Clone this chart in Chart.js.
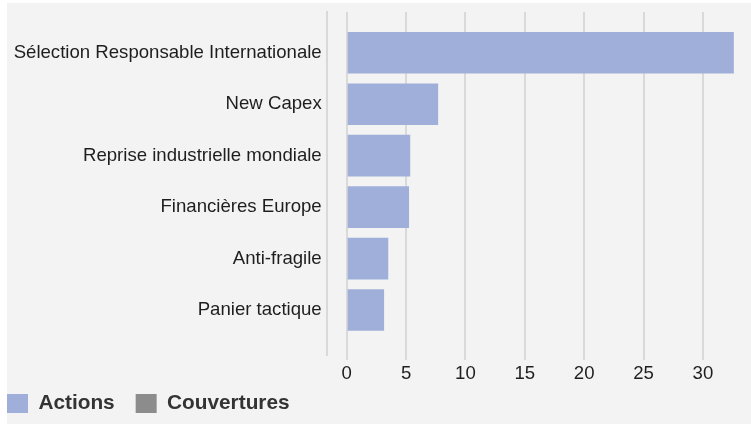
<!DOCTYPE html>
<html lang="fr">
<head>
<meta charset="utf-8">
<title>Poches du portefeuille</title>
<script src="https://cdn.jsdelivr.net/npm/chart.js@4.4.1/dist/chart.umd.min.js"></script>
<style>
    html, body { margin: 0; padding: 0; background: #ffffff; overflow: hidden; }
    /* Fond gris du bloc graphique */
    #panel { position: absolute; left: 7px; top: 3px; width: 744px; height: 421px; background: #f3f3f3; }
    /* Le canvas déborde à gauche pour que la légende démarre au bord du bloc */
    #wrap { position: absolute; left: -14px; top: 0; width: 765px; height: 426px; }
</style>
</head>
<body>
<div id="panel"></div>
<div id="wrap"><canvas id="chartPoches"></canvas></div>
<script>
// Données du graphique
const categories = [
    'Sélection Responsable Internationale',
    'New Capex',
    'Reprise industrielle mondiale',
    'Financières Europe',
    'Anti-fragile',
    'Panier tactique'
];
const actions = [32.6, 7.7, 5.35, 5.25, 3.5, 3.15];
const couvertures = [0, 0, 0, 0, 0, 0];
const xTicks = [0, 5, 10, 15, 20, 25, 30];

const gridColor = '#d9d9d9';
const textColor = '#1e1e1e';
const fontFamily = 'Liberation Sans, Arial, sans-serif';

// Remonte la légende sous les étiquettes de l'axe (marge interne plus petite en hauteur)
const legendShift = {
    id: 'legendShift',
    afterLayout: function (chart) {
        const legend = chart.legend;
        if (legend) {
            legend.top -= 12.9;
            legend.bottom -= 12.9;
        }
    }
};

/**
 * Crée le graphique de barres horizontales
 * @param {string} elementId - ID du canvas
 */
function createPochesChart(elementId) {
    const element = document.getElementById(elementId);
    if (!element) {
        console.error(`Élément "${elementId}" introuvable`);
        return null;
    }
    const ctx = element.getContext('2d');

    return new Chart(ctx, {
        type: 'bar',
        data: {
            labels: categories,
            datasets: [{
                label: 'Actions',
                data: actions,
                backgroundColor: '#a0afda',
                borderWidth: 0,
                grouped: false
            }, {
                label: 'Couvertures',
                data: couvertures,
                backgroundColor: '#8c8c8c',
                borderWidth: 0,
                grouped: false
            }]
        },
        plugins: [legendShift],
        options: {
            indexAxis: 'y', // barres horizontales
            responsive: true,
            maintainAspectRatio: false,
            animation: false,
            categoryPercentage: 1,
            barPercentage: 0.81,
            layout: {
                padding: { top: 12, right: 6, bottom: -10.8, left: 0 }
            },
            scales: {
                x: {
                    min: -1.684,
                    max: 33.54,
                    afterBuildTicks: function (scale) {
                        scale.ticks = xTicks.map(v => ({ value: v }));
                    },
                    afterFit: function (scale) {
                        scale.height = 30;
                        scale.paddingLeft = 0;
                        scale.paddingRight = 0;
                    },
                    grid: {
                        color: gridColor,
                        lineWidth: 2,
                        tickLength: 5
                    },
                    border: { display: false },
                    ticks: {
                        color: textColor,
                        padding: 3,
                        font: { family: fontFamily, size: 18.6 }
                    }
                },
                y: {
                    // Espace vide au-dessus et au-dessous des catégories
                    afterBuildTicks: function (scale) {
                        scale._startValue = -0.793;
                        scale._valueRange = 6.668;
                    },
                    afterFit: function (scale) {
                        scale.width = 340.7;
                        scale.paddingTop = 0;
                        scale.paddingBottom = 0;
                    },
                    grid: { display: false, drawTicks: false, tickLength: 0 },
                    border: { display: true, color: gridColor, width: 2 },
                    ticks: {
                        color: textColor,
                        padding: 5,
                        font: { family: fontFamily, size: 18.6 }
                    }
                }
            },
            plugins: {
                legend: {
                    position: 'bottom',
                    align: 'start',
                    labels: {
                        boxWidth: 21,
                        boxHeight: 19,
                        padding: 21,
                        color: '#333333',
                        font: { family: fontFamily, size: 20.8, weight: 'bold' }
                    }
                },
                tooltip: { enabled: false }
            }
        }
    });
}

createPochesChart('chartPoches');
</script>
</body>
</html>
